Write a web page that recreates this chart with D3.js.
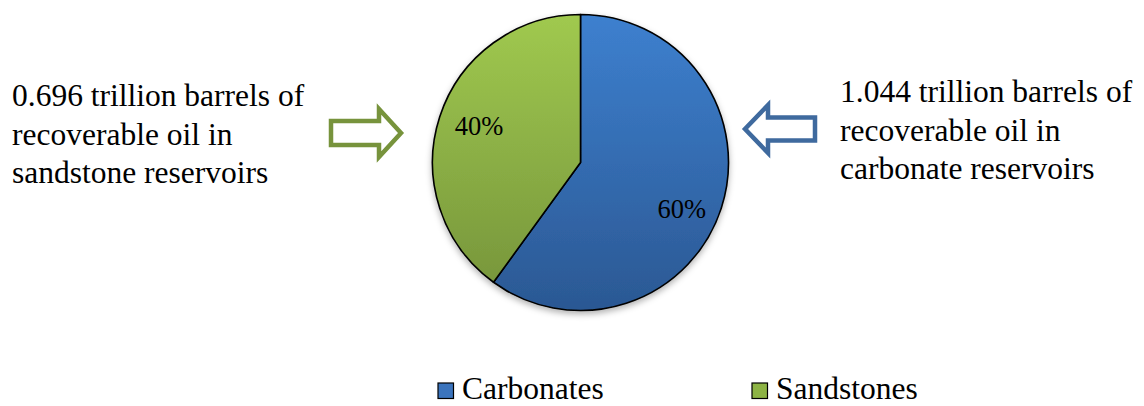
<!DOCTYPE html>
<html>
<head>
<meta charset="utf-8">
<script src="https://cdn.jsdelivr.net/npm/d3@7"></script>
<style>
  html, body { margin: 0; padding: 0; background: #fff; }
  svg { display: block; }
  text { font-family: "Liberation Serif", "Times New Roman", "DejaVu Serif", serif; fill: #000; }
</style>
</head>
<body>
<svg id="chart" width="1144" height="406" font-family="'Liberation Serif', 'Times New Roman', serif"></svg>
<script>
const categories = ["Carbonates", "Sandstones"];
const values = [60, 40];
const sliceLabels = ["60%", "40%"];
const leftNote = ["0.696 trillion barrels of", "recoverable oil in", "sandstone reservoirs"];
const rightNote = ["1.044 trillion barrels of", "recoverable oil in", "carbonate reservoirs"];

const svg = d3.select("#chart");
const cx = 580.5, cy = 162.5, r = 148;

const defs = svg.append("defs");
const grads = [
  { id: "gBlue", top: "#3d80cf", bottom: "#2b5893" },
  { id: "gGreen", top: "#a0c94f", bottom: "#74923a" }
];
grads.forEach(g => {
  const lg = defs.append("linearGradient").attr("id", g.id)
    .attr("gradientUnits", "userSpaceOnUse")
    .attr("x1", 0).attr("y1", -r).attr("x2", 0).attr("y2", r);
  lg.append("stop").attr("offset", "0%").attr("stop-color", g.top);
  lg.append("stop").attr("offset", "100%").attr("stop-color", g.bottom);
});
const f = defs.append("filter").attr("id", "shadow")
  .attr("x", "-20%").attr("y", "-20%").attr("width", "140%").attr("height", "140%");
f.append("feDropShadow").attr("dx", 0).attr("dy", 3).attr("stdDeviation", 3)
  .attr("flood-color", "#000").attr("flood-opacity", 0.3);

const color = d3.scaleOrdinal().domain(categories).range(["url(#gBlue)", "url(#gGreen)"]);
const legendColor = d3.scaleOrdinal().domain(categories).range(["#3b74bd", "#8db344"]);

const pie = d3.pie().sort(null).value(d => d.value);
const data = categories.map((c, i) => ({ cat: c, value: values[i], label: sliceLabels[i] }));
const arcs = pie(data);
const arc = d3.arc().innerRadius(0).outerRadius(r);
const labelArc = d3.arc().innerRadius(r * 0.72).outerRadius(r * 0.72);

const g = svg.append("g").attr("transform", `translate(${cx},${cy})`);
const slices = g.append("g").attr("filter", "url(#shadow)");
slices.selectAll("path").data(arcs).join("path")
  .attr("d", arc)
  .attr("fill", d => color(d.data.cat))
  .attr("stroke", "#000")
  .attr("stroke-width", 1.6)
  .attr("stroke-linejoin", "round");

g.selectAll("text.lbl").data(arcs).join("text")
  .attr("class", "lbl")
  .attr("transform", d => { const [x, y] = labelArc.centroid(d); return `translate(${x},${y})`; })
  .attr("text-anchor", "middle")
  .attr("dy", d => d.data.cat === "Carbonates" ? "0.85em" : "0.2em")
  .attr("font-size", 26.5)
  .text(d => d.data.label);

// side notes
const fs = 31.5;
svg.append("g").selectAll("text").data(leftNote).join("text")
  .attr("x", 12).attr("y", (d, i) => 106 + i * 38.5)
  .attr("font-size", fs).text(d => d);
svg.append("g").selectAll("text").data(rightNote).join("text")
  .attr("x", 840).attr("y", (d, i) => 102 + i * 38.5)
  .attr("font-size", fs).text(d => d);

// arrows (outlined block arrows)
function blockArrow(x0, x1, headX, tipY, shaftHalf, headHalf) {
  return d3.line()([
    [x0, tipY - shaftHalf], [headX, tipY - shaftHalf], [headX, tipY - headHalf],
    [x1, tipY], [headX, tipY + headHalf], [headX, tipY + shaftHalf], [x0, tipY + shaftHalf]
  ]) + "Z";
}
svg.append("path")
  .attr("d", blockArrow(331, 401, 379, 133, 12, 24))
  .attr("fill", "#fff").attr("stroke", "#77933c").attr("stroke-width", 4.5)
  .attr("stroke-linejoin", "miter");
svg.append("path")
  .attr("d", blockArrow(815, 745, 768, 129, 11.5, 24))
  .attr("fill", "#fff").attr("stroke", "#3f6a9e").attr("stroke-width", 4.5)
  .attr("stroke-linejoin", "miter");

// legend
const legendX = [438, 752];
const leg = svg.append("g").selectAll("g").data(categories).join("g")
  .attr("transform", (d, i) => `translate(${legendX[i]},383)`);
leg.append("rect").attr("width", 15.5).attr("height", 15.5)
  .attr("fill", d => legendColor(d)).attr("stroke", "#000").attr("stroke-width", 1.2);
leg.append("text").attr("x", 24).attr("y", 16).attr("font-size", fs).text(d => d);
</script>
</body>
</html>
